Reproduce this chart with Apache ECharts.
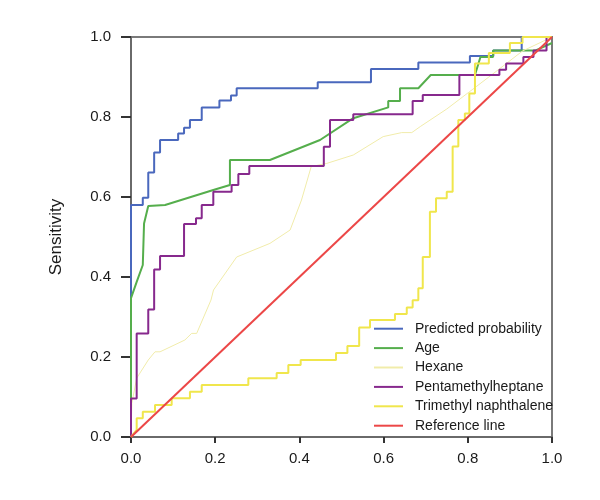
<!DOCTYPE html>
<html>
<head>
<meta charset="utf-8">
<script src="https://cdn.jsdelivr.net/npm/echarts@6/dist/echarts.min.js"></script>
<style>
html,body{margin:0;padding:0;background:#fff;}
#chart{width:600px;height:500px;}
</style>
</head>
<body>
<div id="chart"></div>
<script>
// ---- data (ROC curves: [1 - specificity, sensitivity]) ----
var seriesNames = ['Predicted probability', 'Age', 'Hexane', 'Pentamethylheptane', 'Trimethyl naphthalene', 'Reference line'];
var tickValues = [0.0, 0.2, 0.4, 0.6, 0.8, 1.0];

var predicted = [[0,0],[0,0.58],[0.028,0.58],[0.028,0.598],[0.041,0.598],[0.041,0.661],[0.055,0.661],[0.055,0.711],[0.069,0.711],[0.069,0.7425],[0.112,0.7425],[0.112,0.759],[0.126,0.759],[0.126,0.773],[0.140,0.773],[0.140,0.7925],[0.168,0.7925],[0.168,0.824],[0.210,0.824],[0.210,0.841],[0.2375,0.841],[0.2375,0.854],[0.251,0.854],[0.251,0.872],[0.4435,0.872],[0.4435,0.887],[0.570,0.887],[0.570,0.92],[0.6825,0.92],[0.6825,0.936],[0.805,0.936],[0.805,0.9525],[0.8606,0.9525],[0.8606,0.966],[0.928,0.966],[0.928,1],[1,1]];

var age = [[0,0],[0,0.347],[0.0135,0.388],[0.028,0.43],[0.031,0.534],[0.041,0.5775],[0.081,0.58],[0.1955,0.6175],[0.235,0.63],[0.235,0.6925],[0.33,0.6925],[0.449,0.7425],[0.528,0.797],[0.611,0.824],[0.611,0.84],[0.639,0.84],[0.639,0.872],[0.6825,0.872],[0.712,0.905],[0.817,0.905],[0.83,0.95],[0.86,0.95],[0.86,0.966],[0.96,0.966],[1,0.985]];

var hexane = [[0,0],[0.002,0.084],[0.0135,0.147],[0.041,0.1925],[0.057,0.213],[0.069,0.213],[0.128,0.2425],[0.144,0.259],[0.156,0.259],[0.19,0.3425],[0.196,0.3675],[0.251,0.45],[0.33,0.484],[0.378,0.5175],[0.405,0.5925],[0.428,0.676],[0.465,0.684],[0.528,0.705],[0.599,0.751],[0.643,0.761],[0.667,0.761],[0.687,0.776],[0.75,0.82],[0.85,0.9],[0.93,0.965],[1,1]];

var pentamethylheptane = [[0,0],[0,0.096],[0.0135,0.096],[0.0135,0.2585],[0.041,0.2585],[0.041,0.3185],[0.055,0.3185],[0.055,0.419],[0.069,0.419],[0.069,0.4525],[0.126,0.4525],[0.126,0.5325],[0.1544,0.5325],[0.1544,0.5467],[0.168,0.5467],[0.168,0.58],[0.1955,0.58],[0.1955,0.6133],[0.239,0.6133],[0.239,0.63],[0.255,0.63],[0.255,0.6575],[0.281,0.6575],[0.281,0.6775],[0.458,0.6775],[0.458,0.7257],[0.4727,0.7257],[0.4727,0.7925],[0.528,0.7925],[0.528,0.8067],[0.669,0.8067],[0.669,0.84],[0.693,0.84],[0.693,0.855],[0.78,0.855],[0.78,0.905],[0.875,0.905],[0.875,0.918],[0.891,0.918],[0.891,0.9335],[0.932,0.9335],[0.932,0.95],[0.956,0.95],[0.956,0.966],[0.987,0.966],[0.987,1],[1,1]];

var trimethylNaphthalene = [[0,0],[0.0135,0.0175],[0.0135,0.0467],[0.028,0.0467],[0.028,0.0633],[0.057,0.0633],[0.057,0.08],[0.0966,0.08],[0.0966,0.0967],[0.14,0.0967],[0.14,0.113],[0.168,0.113],[0.168,0.13],[0.2787,0.13],[0.2787,0.147],[0.346,0.147],[0.346,0.16],[0.3737,0.16],[0.3737,0.18],[0.403,0.18],[0.403,0.1925],[0.487,0.1925],[0.487,0.21],[0.514,0.21],[0.514,0.2275],[0.542,0.2275],[0.542,0.274],[0.5677,0.274],[0.5677,0.2925],[0.627,0.2925],[0.627,0.3075],[0.655,0.3075],[0.655,0.324],[0.669,0.324],[0.669,0.342],[0.6825,0.342],[0.6825,0.372],[0.693,0.372],[0.693,0.45],[0.71,0.45],[0.71,0.563],[0.7245,0.563],[0.7245,0.5967],[0.75,0.5967],[0.75,0.613],[0.764,0.613],[0.764,0.726],[0.7775,0.726],[0.7775,0.7925],[0.793,0.7925],[0.793,0.809],[0.8036,0.809],[0.8036,0.859],[0.817,0.859],[0.817,0.9335],[0.85,0.9335],[0.85,0.96],[0.9,0.96],[0.9,0.985],[0.93,0.985],[0.93,1],[1,1]];

var referenceLine = [[0,0],[1,1]];

var colors = ['#4a68bd', '#55ae4c', '#f1ecaa', '#87298d', '#f0e64c', '#ec4747'];
var widths = [2, 2, 1, 2, 2, 2];
var datasets = [predicted, age, hexane, pentamethylheptane, trimethylNaphthalene, referenceLine];

var chart = echarts.init(document.getElementById('chart'));
var axisFont = 'Liberation Sans, Arial, sans-serif';
var series = seriesNames.map(function (n, i) {
  return {
    name: n,
    type: 'line',
    data: datasets[i],
    symbol: 'none',
    silent: true,
    animation: false,
    lineStyle: { color: colors[i], width: widths[i] },
    itemStyle: { color: colors[i] }
  };
});

chart.setOption({
  animation: false,
  backgroundColor: '#fff',
  grid: { left: 131, right: 48, top: 37, bottom: 63, show: true, borderColor: '#7a7a7a', borderWidth: 2 },
  legend: {
    data: seriesNames.map(function (n, i) { return { name: n, icon: 'rect', itemStyle: { color: colors[i] } }; }),
    orient: 'vertical',
    left: 369,
    top: 314,
    itemWidth: 29,
    itemHeight: 2,
    itemGap: 0,
    textStyle: { fontFamily: 'Liberation Sans, Arial, sans-serif', fontSize: 14, color: '#1a1a1a', lineHeight: 19.4, padding: [0, 0, 0, 7] }
  },
  xAxis: {
    type: 'value', min: 0, max: 1, interval: 0.2,
    splitLine: { show: false },
    axisLine: { lineStyle: { color: '#6a6a6a', width: 2 } },
    axisTick: { length: 6, lineStyle: { color: '#333', width: 2 } },
    axisLabel: { margin: 14, fontFamily: axisFont, fontSize: 15, color: '#1a1a1a', formatter: function (v) { return v.toFixed(1); } }
  },
  yAxis: {
    type: 'value', min: 0, max: 1, interval: 0.2,
    name: 'Sensitivity', nameLocation: 'middle', nameGap: 66, nameRotate: 90,
    nameTextStyle: { fontFamily: axisFont, fontSize: 17, color: '#1a1a1a' },
    splitLine: { show: false },
    axisLine: { lineStyle: { color: '#6a6a6a', width: 2 } },
    axisTick: { length: 10, lineStyle: { color: '#333', width: 2 } },
    axisLabel: { margin: 20, fontFamily: axisFont, fontSize: 15, color: '#1a1a1a', formatter: function (v) { return v.toFixed(1); } }
  },
  series: series
});
</script>
</body>
</html>
